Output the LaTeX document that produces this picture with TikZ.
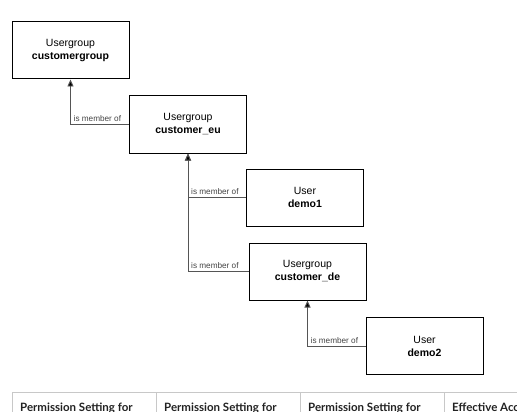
\documentclass[tikz,border=0pt]{standalone}
\usepackage{fontspec}
\setmainfont{Liberation Sans}
\newfontfamily\latofont{Lato}
\usetikzlibrary{arrows.meta,calc}
\definecolor{conncol}{HTML}{555555}
\definecolor{lblcol}{HTML}{444444}
\definecolor{gridcol}{HTML}{C8C8C8}
\definecolor{headcol}{HTML}{222222}
\tikzset{
  entity/.style={draw=black, line width=1pt, minimum width=117pt, minimum height=57pt, inner sep=0pt, align=center, font=\fontsize{10.5}{13}\selectfont},
  conn/.style={draw=conncol, line width=0.9pt, -{Triangle[length=7pt,width=6pt,fill=black]}},
  lbl/.style={font=\fontsize{8.2}{9}\selectfont, text=lblcol, inner sep=0pt, anchor=south west},
  grid/.style={draw=gridcol, line width=1pt},
  head/.style={font=\latofont\bfseries\fontsize{11.5}{13}\selectfont, text=headcol, inner sep=0pt, anchor=base west}
}
\begin{document}
\begin{tikzpicture}[x=1pt,y=-1pt]
\useasboundingbox (0,0) rectangle (517,412);
\clip (0,0) rectangle (517,412);
\node[entity] (cg) at (70.5,50.5) {Usergroup\\\textbf{customergroup}};
\node[entity] (eu) at (188,124.5) {Usergroup\\\textbf{customer\_eu}};
\node[entity] (d1) at (305,197.5) {User\\\textbf{demo1}};
\node[entity] (de) at (307.5,271.5) {Usergroup\\\textbf{customer\_de}};
\node[entity] (d2) at (424.5,346) {User\\\textbf{demo2}};
\draw[conn] (eu.west) -| (cg.south);
\draw[conn] (d1.west) -| (eu.south);
\draw[conn] (de.west) -| (eu.south);
\draw[conn] (d2.west) -| (de.south);
\node[lbl] (l1) at ($(cg.south |- eu.west)+(3,-2.5)$) {is member of};
\node[lbl] (l2) at ($(eu.south |- d1.west)+(3,-2.5)$) {is member of};
\node[lbl] (l3) at ($(eu.south |- de.west)+(3,-2.5)$) {is member of};
\node[lbl] (l4) at ($(de.south |- d2.west)+(3,-2.5)$) {is member of};
% table header
\coordinate (t0) at (12,392);
\coordinate (t1) at (156,392);
\coordinate (t2) at (300,392);
\coordinate (t3) at (444,392);
\coordinate (te) at (517,392);
\draw[grid] (t0) -- (te);
\draw[grid] (t0) -- ++(0,25);
\draw[grid] (t1) -- ++(0,25);
\draw[grid] (t2) -- ++(0,25);
\draw[grid] (t3) -- ++(0,25);
\node[head] (h1) at (20,411.5) {Permission Setting for};
\node[head] (h2) at (164,411.5) {Permission Setting for};
\node[head] (h3) at (308,411.5) {Permission Setting for};
\node[head] (h4) at (452,411.5) {Effective Acc};
\end{tikzpicture}
\end{document}
